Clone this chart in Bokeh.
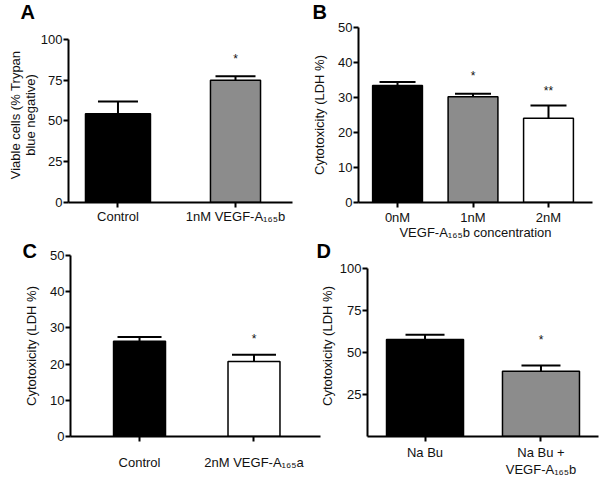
from bokeh.plotting import figure
from bokeh.layouts import column, row
from bokeh.models import ColumnDataSource, Whisker, TeeHead, Label, FixedTicker, Range1d
from bokeh.core.properties import value
from bokeh.embed import file_html
from bokeh.resources import INLINE

FONT = "Liberation Sans"
TXT = "#111111"

# ---- data ----
# Panel A
a_cats = ["Control", "1nM VEGF-A\u2081\u2086\u2085b"]
a_mean = [54.5, 75.0]
a_err = [7.5, 2.5]
a_colors = ["#000000", "#8c8c8c"]
a_sig = ["", "*"]
a_sig_y = [0, 88.0]
a_yticks = [0, 25, 50, 75, 100]

# Panel B
b_cats = ["0nM", "1nM", "2nM"]
b_mean = [33.4, 30.2, 24.1]
b_err = [1.0, 0.9, 3.6]
b_colors = ["#000000", "#8c8c8c", "#ffffff"]
b_sig = ["", "*", "**"]
b_sig_y = [0, 36.2, 32.0]
b_yticks = [0, 10, 20, 30, 40, 50]
b_xtitle = "VEGF-A\u2081\u2086\u2085b concentration"

# Panel C
c_cats = ["Control", "2nM VEGF-A\u2081\u2086\u2085a"]
c_mean = [26.3, 20.7]
c_err = [1.2, 1.9]
c_colors = ["#000000", "#ffffff"]
c_sig = ["", "*"]
c_sig_y = [0, 26.8]
c_yticks = [0, 10, 20, 30, 40, 50]

# Panel D
d_cats = ["Na Bu", "Na Bu +\nVEGF-A\u2081\u2086\u2085b"]
d_mean = [57.7, 38.9]
d_err = [2.8, 3.4]
d_colors = ["#000000", "#8c8c8c"]
d_sig = ["", "*"]
d_sig_y = [0, 57.7]
d_yticks = [25, 50, 75, 100]


def panel(letter, letter_xy, cats, mean, err, colors, sig, sig_y, yticks, ymax, ytop,
          ylabel, width, height, borders, xr, bar_w, cap,
          label_standoff=12, xlabel_standoff=3, xlab_line_h=1.15, ylab_line_h=1.05,
          margin=None):
    xs = list(range(len(cats)))
    src = ColumnDataSource(dict(
        x=xs, mean=mean, upper=[m + e for m, e in zip(mean, err)],
        color=colors, w=bar_w, sig=sig, sig_y=sig_y))
    left, right, top, bottom = borders
    kw = {} if margin is None else {"margin": margin}
    p = figure(width=width, height=height, output_backend="svg",
               toolbar_location=None, x_range=Range1d(*xr),
               y_range=Range1d(0, ytop),
               min_border_left=left, min_border_right=right,
               min_border_top=top, min_border_bottom=bottom, **kw)
    p.outline_line_color = None
    p.grid.visible = False
    p.background_fill_color = None
    p.border_fill_color = None

    p.vbar(x="x", top="mean", width="w", bottom=0, source=src,
           fill_color="color", line_color="black", line_width=1.5)
    wh = Whisker(source=src, base="x", lower="mean", upper="upper",
                 line_width=2, line_color="black",
                 upper_head=TeeHead(size=cap, line_width=2, line_color="black"),
                 lower_head=None)
    p.add_layout(wh)
    p.text(x="x", y="sig_y", text="sig", source=src, text_align="center",
           text_baseline="middle", text_font=value(FONT),
           text_font_size="12px", text_color=TXT)

    for ax in (p.xaxis[0], p.yaxis[0]):
        ax.axis_line_width = 2
        ax.axis_line_color = "black"
        ax.major_tick_line_width = 2
        ax.major_tick_line_color = "black"
        ax.major_tick_in = 0
        ax.major_tick_out = 5
        ax.minor_tick_line_color = None
        ax.major_label_text_font = FONT
        ax.major_label_text_font_size = "13px"
        ax.major_label_text_color = TXT
        ax.axis_label_text_font = FONT
        ax.axis_label_text_font_size = "13px"
        ax.axis_label_text_font_style = "normal"
        ax.axis_label_text_color = TXT

    p.xaxis.ticker = FixedTicker(ticks=xs)
    p.xaxis.major_label_overrides = {i: c for i, c in zip(xs, cats)}
    p.xaxis.major_label_standoff = xlabel_standoff
    p.xaxis.major_label_text_line_height = xlab_line_h
    p.yaxis.ticker = FixedTicker(ticks=yticks)
    p.yaxis.bounds = (0, ymax)
    p.yaxis.major_label_standoff = 1
    p.yaxis.axis_label = ylabel
    p.yaxis.axis_label_standoff = label_standoff
    p.yaxis.axis_label_text_line_height = ylab_line_h

    # panel letter, placed in the band above the plot frame
    p.add_layout(Label(x=letter_xy[0], y=letter_xy[1], x_units="screen",
                       y_units="screen", text=letter, text_font=FONT,
                       text_font_size="20px", text_font_style="bold",
                       text_color="black", text_baseline="alphabetic"), "above")
    return p


pA = panel("A", (-48, 16), a_cats, a_mean, a_err, a_colors, a_sig, a_sig_y, a_yticks,
           100, 107.36, "Viable cells (% Trypan\nblue negative)",
           306, 250, (74, 8, 27, 48), (-0.421, 1.485), [0.553, 0.426], 40,
           label_standoff=0, xlabel_standoff=1, ylab_line_h=1.0)
pB = panel("B", (-46, 16), b_cats, b_mean, b_err, b_colors, b_sig, b_sig_y, b_yticks,
           50, 50, "Cytotoxicity (LDH %)",
           300, 250, (58, 8, 27, 48), (-0.517, 2.583), [0.66] * 3, 36,
           label_standoff=8, xlabel_standoff=2)
pB.xaxis.axis_label = b_xtitle
pB.xaxis.axis_label_standoff = -3

pC = panel("C", (-48, 5), c_cats, c_mean, c_err, c_colors, c_sig, c_sig_y, c_yticks,
           50, 50, "Cytotoxicity (LDH %)",
           322, 247, (70, 2, 23, 43), (-0.603, 1.581), [0.454] * 2, 44,
           label_standoff=8, xlabel_standoff=13)
pD = panel("D", (-51, 5), d_cats, d_mean, d_err, d_colors, d_sig, d_sig_y, d_yticks,
           100, 107.74, "Cytotoxicity (LDH %)",
           290, 247, (57, 2, 23, 43), (-0.496, 1.496), [0.664] * 2, 39,
           label_standoff=2, xlabel_standoff=3, margin=(0, 0, 0, -12))

layout = column(row(pA, pB, margin=(0, 0, 0, -6)),
                row(pC, pD, margin=(-18, 0, 0, 0)))
open("out.html", "w").write(file_html(layout, INLINE))
